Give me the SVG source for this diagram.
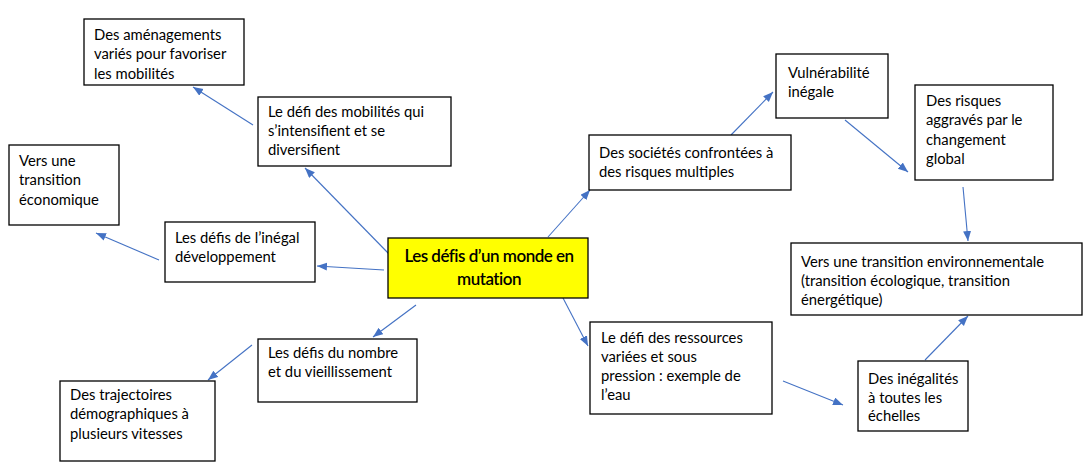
<svg xmlns="http://www.w3.org/2000/svg" width="1089" height="473" viewBox="0 0 1089 473">
<style>
.box{fill:#fff;stroke:#000;stroke-width:1.3}
.t{font-family:Lato,"Liberation Sans",sans-serif;font-size:14.8px;fill:#000}
.c{font-family:Lato,"Liberation Sans",sans-serif;font-size:17px;font-weight:600;fill:#000;letter-spacing:-0.5px;text-anchor:middle}
.a{stroke:#4472C4;stroke-width:1.1;fill:none;marker-end:url(#ah)}
</style>
<defs>
<marker id="ah" markerUnits="userSpaceOnUse" markerWidth="11" markerHeight="9" refX="10" refY="4" orient="auto">
<path d="M0,0 L10,4 L0,8 z" fill="#4472C4"/>
</marker>
</defs>
<rect width="1089" height="473" fill="#fff"/>
<g id="connectors">
<line class="a" x1="253" y1="125" x2="193" y2="87"/>
<line class="a" x1="389" y1="254" x2="305" y2="168"/>
<line class="a" x1="384" y1="270" x2="317" y2="266"/>
<line class="a" x1="159" y1="260" x2="96" y2="233"/>
<line class="a" x1="416" y1="305" x2="373" y2="337"/>
<line class="a" x1="252" y1="345" x2="208" y2="380"/>
<line class="a" x1="548" y1="237" x2="590" y2="190"/>
<line class="a" x1="731" y1="135" x2="773" y2="92"/>
<line class="a" x1="845" y1="120" x2="908" y2="172"/>
<line class="a" x1="963" y1="187" x2="968" y2="241"/>
<line class="a" x1="563" y1="298" x2="588" y2="346"/>
<line class="a" x1="783" y1="381" x2="843" y2="405"/>
<line class="a" x1="925" y1="360" x2="968" y2="316"/>
</g>
<g id="central">
<rect x="388" y="238" width="200" height="60" fill="#ffff00" stroke="#000" stroke-width="1.3"/>
<text class="c" x="489" y="262">Les défis d’un monde en</text>
<text class="c" x="489" y="285">mutation</text>
</g>
<g id="amenagements">
<rect class="box" x="84" y="19" width="160" height="66"/>
<text class="t" x="94" y="40">Des aménagements</text>
<text class="t" x="94" y="59">variés pour favoriser</text>
<text class="t" x="94" y="79">les mobilités</text>
</g>
<g id="mobilites">
<rect class="box" x="258" y="97" width="193" height="69"/>
<text class="t" x="268" y="117">Le défi des mobilités qui</text>
<text class="t" x="268" y="136">s’intensifient et se</text>
<text class="t" x="268" y="155">diversifient</text>
</g>
<g id="economique">
<rect class="box" x="9" y="145" width="110" height="80"/>
<text class="t" x="19" y="166">Vers une</text>
<text class="t" x="19" y="185">transition</text>
<text class="t" x="19" y="205">économique</text>
</g>
<g id="inegal">
<rect class="box" x="165" y="222" width="150" height="60"/>
<text class="t" x="175" y="243">Les défis de l’inégal</text>
<text class="t" x="175" y="262">développement</text>
</g>
<g id="nombre">
<rect class="box" x="258" y="339" width="159" height="63"/>
<text class="t" x="268" y="358">Les défis du nombre</text>
<text class="t" x="268" y="377">et du vieillissement</text>
</g>
<g id="trajectoires">
<rect class="box" x="60" y="381" width="155" height="80"/>
<text class="t" x="70" y="400">Des trajectoires</text>
<text class="t" x="70" y="419">démographiques à</text>
<text class="t" x="70" y="439">plusieurs vitesses</text>
</g>
<g id="societes">
<rect class="box" x="589" y="135" width="202" height="55"/>
<text class="t" x="599" y="158">Des sociétés confrontées à</text>
<text class="t" x="599" y="177">des risques multiples</text>
</g>
<g id="vulnerabilite">
<rect class="box" x="776" y="54" width="112" height="64"/>
<text class="t" x="788" y="78">Vulnérabilité</text>
<text class="t" x="788" y="97">inégale</text>
</g>
<g id="risques">
<rect class="box" x="915" y="85" width="138" height="95"/>
<text class="t" x="926" y="106">Des risques</text>
<text class="t" x="926" y="125">aggravés par le</text>
<text class="t" x="926" y="145">changement</text>
<text class="t" x="926" y="164">global</text>
</g>
<g id="environnementale">
<rect class="box" x="791" y="243" width="291" height="72"/>
<text class="t" x="801" y="267">Vers une transition environnementale</text>
<text class="t" x="801" y="286">(transition écologique, transition</text>
<text class="t" x="801" y="305">énergétique)</text>
</g>
<g id="ressources">
<rect class="box" x="590" y="322" width="182" height="92"/>
<text class="t" x="601" y="343">Le défi des ressources</text>
<text class="t" x="601" y="362">variées et sous</text>
<text class="t" x="601" y="381">pression : exemple de</text>
<text class="t" x="601" y="400">l’eau</text>
</g>
<g id="inegalites">
<rect class="box" x="858" y="361" width="110" height="70"/>
<text class="t" x="868" y="384">Des inégalités</text>
<text class="t" x="868" y="403">à toutes les</text>
<text class="t" x="868" y="421">échelles</text>
</g>
</svg>
